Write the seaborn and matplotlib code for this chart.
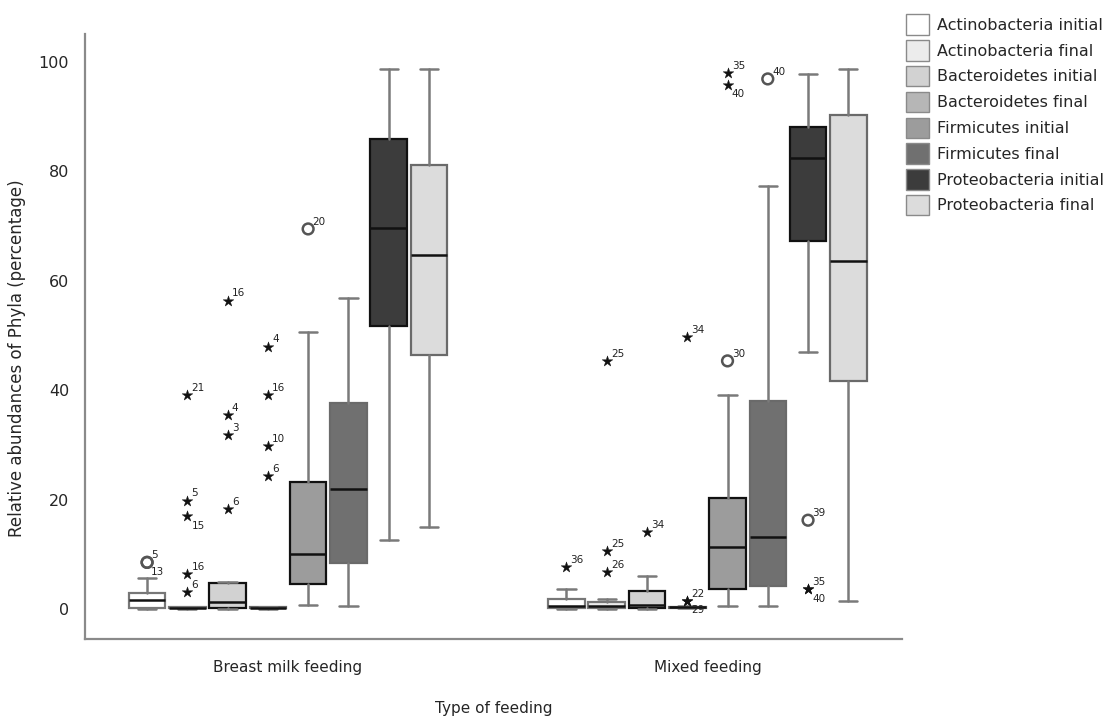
import numpy as np
import pandas as pd
import matplotlib.pyplot as plt
import seaborn as sns
from matplotlib.patches import Patch

sns.set_style('white')
plt.rcParams['font.family'] = ['DejaVu Sans']

groups = ['Breast milk feeding', 'Mixed feeding']
series = ['Actinobacteria initial', 'Actinobacteria final',
          'Bacteroidetes initial', 'Bacteroidetes final',
          'Firmicutes initial', 'Firmicutes final',
          'Proteobacteria initial', 'Proteobacteria final']
fill_colors = ['#ffffff', '#ececec', '#d2d2d2', '#b6b6b6',
               '#9c9c9c', '#707070', '#3c3c3c', '#dcdcdc']
edge_colors = ['#777777', '#777777', '#111111', '#666666',
               '#111111', '#6a6a6a', '#111111', '#6a6a6a']

# box stats (lower whisker, Q1, median, Q3, upper whisker)
breast_low = [0.0, 0.0, 0.0, 0.0, 0.9, 0.6, 12.7, 15.1]
breast_q1 = [0.2, 0.3, 0.2, 0.3, 4.6, 8.4, 51.8, 46.5]
breast_med = [1.7, 0.35, 1.4, 0.35, 10.1, 22.0, 69.7, 64.7]
breast_q3 = [2.95, 0.4, 4.8, 0.4, 23.3, 37.7, 85.9, 81.1]
breast_high = [5.7, 0.5, 5.1, 0.5, 50.6, 56.8, 98.7, 98.7]

mixed_low = [0.0, 0.0, 0.0, 0.2, 0.7, 0.7, 47.1, 1.6]
mixed_q1 = [0.2, 0.2, 0.3, 0.3, 3.8, 4.35, 67.3, 41.8]
mixed_med = [0.6, 0.6, 0.9, 0.4, 11.4, 13.3, 82.5, 63.7]
mixed_q3 = [2.0, 1.3, 3.4, 0.5, 20.4, 38.1, 88.1, 90.4]
mixed_high = [3.8, 2.0, 6.2, 0.6, 39.1, 77.4, 97.8, 98.8]

# outliers: group index, series index, value, marker, case label, label side
out_group = [0, 0, 0, 0, 0, 0, 0, 0, 0, 0, 0, 0, 0, 0, 0, 0,
             1, 1, 1, 1, 1, 1, 1, 1, 1, 1, 1, 1, 1, 1, 1]
out_series = [0, 0, 1, 1, 1, 1, 1, 2, 2, 2, 2, 3, 3, 3, 3, 4,
              0, 1, 1, 1, 2, 3, 3, 3, 4, 4, 4, 5, 6, 6, 6]
out_value = [8.6, 8.6, 39.2, 19.9, 17.0, 6.5, 3.1, 56.4, 35.5, 31.9, 18.4,
             48.0, 39.2, 29.9, 24.3, 69.5,
             7.8, 45.3, 10.6, 6.9, 14.2, 49.8, 1.6, 1.6, 97.9, 95.8, 45.4,
             96.9, 16.3, 3.7, 3.7]
out_marker = ['o', 'o', '*', '*', '*', '*', '*', '*', '*', '*', '*',
              '*', '*', '*', '*', 'o',
              '*', '*', '*', '*', '*', '*', '*', '*', '*', '*', 'o',
              'o', 'o', '*', '*']
out_label = ['5', '13', '21', '5', '15', '16', '6', '16', '4', '3', '6',
             '4', '16', '10', '6', '20',
             '36', '25', '25', '26', '34', '34', '22', '29', '35', '40', '30',
             '40', '39', '35', '40']
out_side = ['u', 'd', 'u', 'u', 'd', 'u', 'u', 'u', 'u', 'u', 'u',
            'u', 'u', 'u', 'u', 'u',
            'u', 'u', 'u', 'u', 'u', 'u', 'u', 'd', 'u', 'd', 'u',
            'u', 'u', 'u', 'd']

step = 0.096
width = 0.087
n = len(series)

def position(g, i):
    return g + (i - (n - 1) / 2) * step

stats = []
positions = []
for g, (lo, q1, med, q3, hi) in enumerate([
        (breast_low, breast_q1, breast_med, breast_q3, breast_high),
        (mixed_low, mixed_q1, mixed_med, mixed_q3, mixed_high)]):
    for i in range(n):
        stats.append({'whislo': lo[i], 'q1': q1[i], 'med': med[i],
                      'q3': q3[i], 'whishi': hi[i], 'fliers': []})
        positions.append(position(g, i))

fig = plt.figure(figsize=(11.07, 7.18), dpi=100)
ax = fig.add_axes([0.0768, 0.110, 0.738, 0.8426])

bp = ax.bxp(stats, positions=positions, widths=width, patch_artist=True,
            showfliers=False, capwidths=width * 0.5,
            whiskerprops=dict(color='#7a7a7a', linewidth=1.8),
            capprops=dict(color='#7a7a7a', linewidth=1.8),
            medianprops=dict(color='#111111', linewidth=1.8),
            boxprops=dict(linewidth=1.6))
for k, box in enumerate(bp['boxes']):
    box.set_facecolor(fill_colors[k % n])
    box.set_edgecolor(edge_colors[k % n])
    box.set_zorder(2)

out = pd.DataFrame({'x': [position(g, i) for g, i in zip(out_group, out_series)],
                    'y': out_value, 'marker': out_marker,
                    'label': out_label, 'side': out_side})
stars = out[out['marker'] == '*']
circles = out[out['marker'] == 'o']
sns.scatterplot(data=stars, x='x', y='y', marker='*', s=65, color='#111111',
                edgecolor='#111111', linewidth=0.3, ax=ax, zorder=4)
sns.scatterplot(data=circles, x='x', y='y', marker='o', s=60, facecolor='none',
                edgecolor='#555555', linewidth=1.8, ax=ax, zorder=4)
for _, r in out.iterrows():
    dy = 3 if r['side'] == 'u' else -9
    ax.annotate(r['label'], (r['x'], r['y']), xytext=(3, dy),
                textcoords='offset points', fontsize=7.5, color='#222222')

ax.set_xlim(-0.484, 1.464)
ax.set_ylim(-5.4, 105.1)
ax.set_xticks([0, 1])
ax.set_xticklabels(groups, fontsize=11)
ax.set_yticks([0, 20, 40, 60, 80, 100])
ax.set_yticklabels(['0', '20', '40', '60', '80', '100'], fontsize=11.5)
ax.tick_params(axis='x', direction='out', length=7, width=1.5, color='#333333', pad=8)
ax.tick_params(axis='y', direction='out', length=5.5, width=1.5, color='#333333', pad=6)
ax.set_xlabel('Type of feeding', fontsize=11)
ax.set_ylabel('Relative abundances of Phyla (percentage)', fontsize=12)
ax.xaxis.set_label_coords(0.5, -0.102)
ax.yaxis.set_label_coords(-0.072, 0.465)

sns.despine(ax=ax)
for side in ['left', 'bottom']:
    ax.spines[side].set_color('#8a8a8a')
    ax.spines[side].set_linewidth(1.6)

handles = [Patch(facecolor=c, edgecolor='#8a8a8a', linewidth=1) for c in fill_colors]
fig.legend(handles, series, loc='upper left', bbox_to_anchor=(0.818, 0.98),
           frameon=False, fontsize=11.5, borderpad=0, borderaxespad=0,
           handlelength=1.5, handleheight=1.6, handletextpad=0.45,
           labelspacing=0.33)

fig.savefig('out.png', dpi=100)
